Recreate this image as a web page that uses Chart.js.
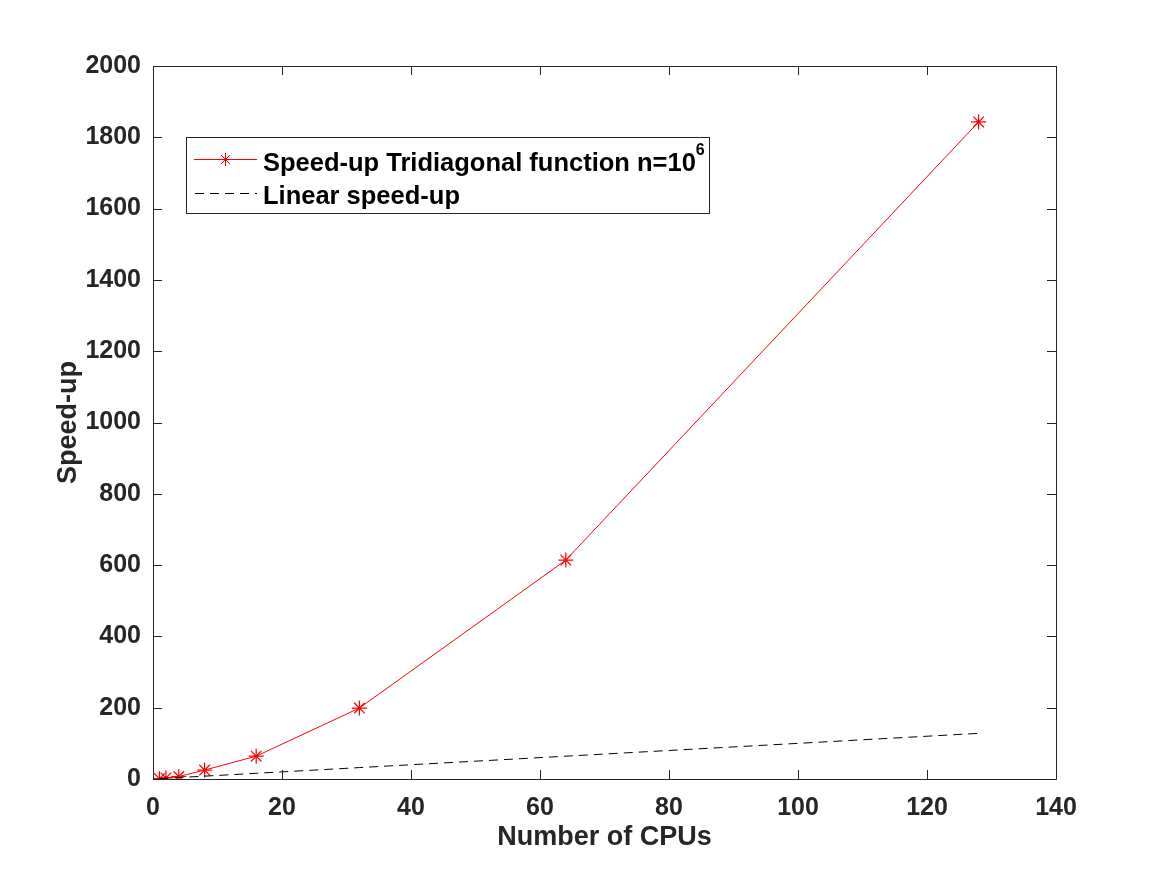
<!DOCTYPE html>
<html>
<head>
<meta charset="utf-8">
<script src="https://cdn.jsdelivr.net/npm/chart.js@4/dist/chart.umd.min.js"></script>
<style>
  body { margin: 0; background: #fff; }
  #c { display: block; }
</style>
</head>
<body>
<canvas id="c" width="1167" height="875"></canvas>
<script>
// values
var cpus = [1, 2, 4, 8, 16, 32, 64, 128];
var speedup = [1, 3, 7, 25, 64, 199, 614, 1843];
var linear = [1, 2, 4, 8, 16, 32, 64, 128];
var xTicks = [0, 20, 40, 60, 80, 100, 120, 140];
var yTicks = [0, 200, 400, 600, 800, 1000, 1200, 1400, 1600, 1800, 2000];

var FONT = "'Liberation Sans', Arial, Helvetica, sans-serif";
var AX = "#262626";

function pts(xs, ys) {
  var out = [];
  for (let i = 0; i < xs.length; i++) out.push({ x: xs[i], y: ys[i] });
  return out;
}

// box + inward ticks, matlab style
var boxPlugin = {
  id: "box",
  afterDatasetsDraw: function (chart) {
    var ctx = chart.ctx, a = chart.chartArea;
    var xs = chart.scales.x, ys = chart.scales.y;
    ctx.save();
    ctx.strokeStyle = AX;
    ctx.lineWidth = 1;
    ctx.beginPath();
    ctx.rect(Math.round(a.left) + 0.5, Math.round(a.top) + 0.5, Math.round(a.right - a.left), Math.round(a.bottom - a.top));
    for (let i = 0; i < xTicks.length; i++) {
      let px = Math.round(xs.getPixelForValue(xTicks[i])) + 0.5;
      ctx.moveTo(px, a.bottom); ctx.lineTo(px, a.bottom - 9);
      ctx.moveTo(px, a.top); ctx.lineTo(px, a.top + 9);
    }
    for (let i = 0; i < yTicks.length; i++) {
      let py = Math.round(ys.getPixelForValue(yTicks[i])) + 0.5;
      ctx.moveTo(a.left, py); ctx.lineTo(a.left + 9, py);
      ctx.moveTo(a.right, py); ctx.lineTo(a.right - 9, py);
    }
    ctx.stroke();
    ctx.restore();
  }
};

// legend box inside the axes
var legendPlugin = {
  id: "mlegend",
  afterDraw: function (chart) {
    var ctx = chart.ctx;
    ctx.save();
    ctx.fillStyle = "#fff";
    ctx.fillRect(186, 137, 523, 76);
    ctx.strokeStyle = AX;
    ctx.lineWidth = 1;
    ctx.strokeRect(186.5, 137.5, 523, 76);

    // red row
    ctx.strokeStyle = "#ff0000";
    ctx.beginPath();
    ctx.moveTo(194, 159.5); ctx.lineTo(257, 159.5);
    ctx.stroke();
    var cx = 225.5, cy = 159.5, r = 6.5;
    ctx.beginPath();
    ctx.moveTo(cx - r, cy); ctx.lineTo(cx + r, cy);
    ctx.moveTo(cx, cy - r); ctx.lineTo(cx, cy + r);
    ctx.moveTo(cx - r * 0.7, cy - r * 0.7); ctx.lineTo(cx + r * 0.7, cy + r * 0.7);
    ctx.moveTo(cx - r * 0.7, cy + r * 0.7); ctx.lineTo(cx + r * 0.7, cy - r * 0.7);
    ctx.stroke();

    // dashed row
    ctx.strokeStyle = "#000";
    ctx.setLineDash([9, 6]);
    ctx.beginPath();
    ctx.moveTo(195, 193.5); ctx.lineTo(257, 193.5);
    ctx.stroke();
    ctx.setLineDash([]);

    ctx.fillStyle = "#000";
    ctx.textBaseline = "middle";
    ctx.textAlign = "left";
    ctx.font = "bold 25.5px " + FONT;
    var t1 = "Speed-up Tridiagonal function n=10";
    ctx.fillText(t1, 263, 164);
    var w = ctx.measureText(t1).width;
    ctx.font = "bold 16px " + FONT;
    ctx.fillText("6", 263 + w, 151);
    ctx.font = "bold 25.5px " + FONT;
    ctx.fillText("Linear speed-up", 263, 197);
    ctx.restore();
  }
};

new Chart("c", {
  type: "line",
  data: {
    datasets: [{
      label: "Speed-up Tridiagonal function n=10^6",
      data: pts(cpus, speedup),
      borderColor: "#ff0000",
      borderWidth: 1,
      pointStyle: "star",
      pointRadius: 7.5,
      pointBorderColor: "#ff0000",
      pointBorderWidth: 1.2,
      backgroundColor: "#ff0000",
      tension: 0,
      order: 2
    }, {
      label: "Linear speed-up",
      data: pts(cpus, linear),
      borderColor: "#000000",
      borderWidth: 1,
      borderDash: [9, 6],
      pointRadius: 0,
      tension: 0,
      order: 1
    }]
  },
  options: {
    responsive: false,
    animation: false,
    devicePixelRatio: 1,
    layout: { padding: { top: 66, right: 111, left: 0, bottom: 0 } },
    plugins: { legend: { display: false }, tooltip: { enabled: false } },
    scales: {
      x: {
        type: "linear",
        min: 0, max: 140,
        afterFit: function (s) { s.height = 96; },
        afterBuildTicks: function (s) { s.ticks = xTicks.map(v => ({ value: v })); },
        grid: { display: false, drawTicks: false },
        border: { display: false },
        ticks: { color: AX, padding: 14, maxRotation: 0, callback: v => String(v), font: { family: FONT, size: 25, weight: "bold" } },
        title: { display: true, text: "Number of CPUs", color: AX, padding: { top: 21, bottom: 21 }, font: { family: FONT, size: 27, weight: "bold" } }
      },
      y: {
        type: "linear",
        min: 0, max: 2000,
        afterFit: function (s) { s.width = 153; },
        afterBuildTicks: function (s) { s.ticks = yTicks.map(v => ({ value: v })); },
        grid: { display: false, drawTicks: false },
        border: { display: false },
        ticks: { color: AX, padding: 12, callback: v => String(v), font: { family: FONT, size: 25, weight: "bold" } },
        title: { display: true, text: "Speed-up", color: AX, padding: { top: 52, bottom: 52 }, font: { family: FONT, size: 27, weight: "bold" } }
      }
    }
  },
  plugins: [boxPlugin, legendPlugin]
});
</script>
</body>
</html>
